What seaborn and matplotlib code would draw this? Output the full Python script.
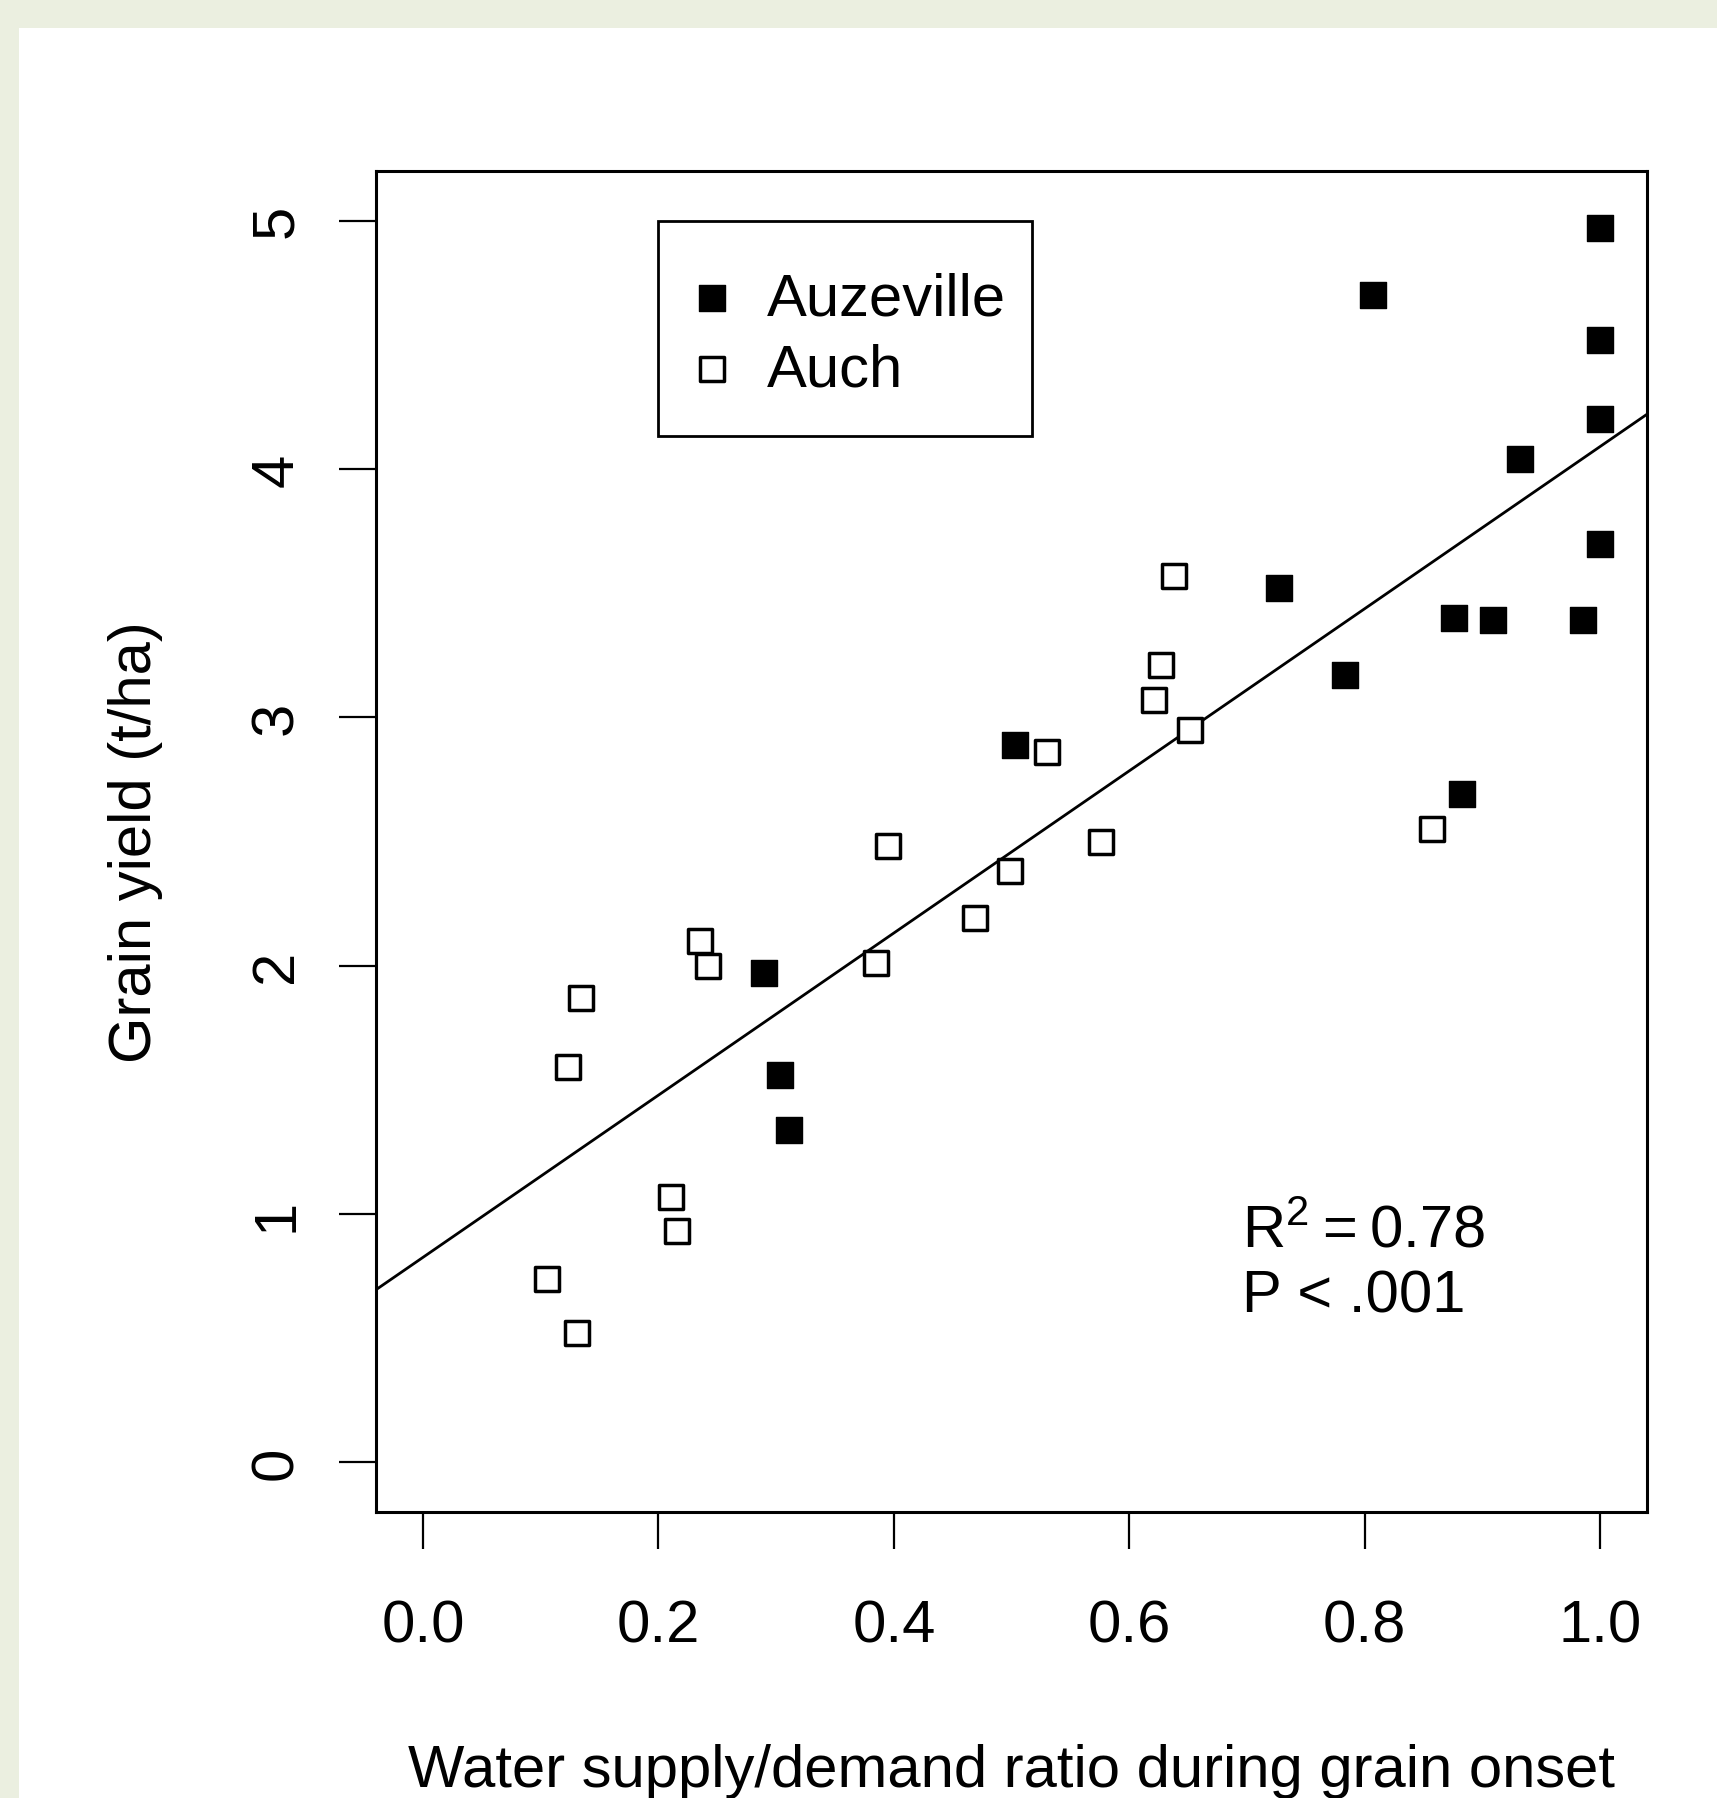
import numpy as np
import pandas as pd
import matplotlib.pyplot as plt
from matplotlib.patches import Rectangle
import seaborn as sns

# values
auzeville_x = [1.0, 0.807, 1.0, 1.0, 0.932, 1.0, 0.727, 0.876, 0.909, 0.986,
               0.783, 0.503, 0.883, 0.290, 0.303, 0.311]
auzeville_y = [4.97, 4.70, 4.52, 4.20, 4.04, 3.70, 3.52, 3.40, 3.39, 3.39,
               3.17, 2.89, 2.69, 1.97, 1.56, 1.34]
auch_x = [0.638, 0.627, 0.621, 0.652, 0.530, 0.576, 0.857, 0.395, 0.499, 0.469,
          0.235, 0.242, 0.385, 0.134, 0.123, 0.211, 0.216, 0.105, 0.131]
auch_y = [3.57, 3.21, 3.07, 2.95, 2.86, 2.50, 2.55, 2.48, 2.38, 2.19,
          2.10, 2.00, 2.01, 1.87, 1.59, 1.07, 0.93, 0.74, 0.52]
sites = ["Auzeville", "Auch"]
x_ticks = [0.0, 0.2, 0.4, 0.6, 0.8, 1.0]
y_ticks = [0, 1, 2, 3, 4, 5]
stats_lines = ["$\\mathregular{R^2}$\u2009=\u20090.78", "P < .001"]

df = pd.DataFrame({
    "ratio": auzeville_x + auch_x,
    "yield": auzeville_y + auch_y,
    "site": [sites[0]] * len(auzeville_x) + [sites[1]] * len(auch_x),
})

sns.set_style("ticks")
plt.rcParams["font.family"] = ["Liberation Sans", "DejaVu Sans"]
plt.rcParams["mathtext.fontset"] = "custom"
plt.rcParams["mathtext.rm"] = "Liberation Sans"
plt.rcParams["mathtext.it"] = "Liberation Sans:italic"
plt.rcParams["text.color"] = "black"
plt.rcParams["axes.labelcolor"] = "black"

W, H = 1717, 1799
fig = plt.figure(figsize=(W / 100, H / 100), dpi=100, facecolor="#ebefe0")
fig.add_artist(Rectangle((19 / W, 0), 1, 1 - 29 / H, transform=fig.transFigure,
                         facecolor="white", edgecolor="none", zorder=-10))

ax_l, ax_r, ax_t, ax_b = 376, 1647, 172, 1513
ax = fig.add_axes([ax_l / W, 1 - ax_b / H, (ax_r - ax_l) / W, (ax_b - ax_t) / H])
ax.set_facecolor("white")
ax.set_xlim(-0.04, 1.04)
ax.set_ylim(-0.2, 5.2)

# least-squares line over the whole axis range
sns.regplot(data=df, x="ratio", y="yield", scatter=False, ci=None, truncate=False,
            color="black", line_kws={"linewidth": 2.0}, ax=ax)

auz = df[df["site"] == sites[0]]
auc = df[df["site"] == sites[1]]
sns.scatterplot(data=auz, x="ratio", y="yield", marker="s", s=340, color="black",
                edgecolor="black", linewidth=1, label=sites[0], ax=ax, zorder=3)
sns.scatterplot(data=auc, x="ratio", y="yield", marker="s", s=285, facecolor="white",
                edgecolor="black", linewidth=2.5, label=sites[1], ax=ax, zorder=3)

ax.set_xlim(-0.04, 1.04)
ax.set_ylim(-0.2, 5.2)
ax.set_xticks(x_ticks)
ax.set_xticklabels([f"{t:.1f}" for t in x_ticks])
ax.set_yticks(y_ticks)
ax.set_yticklabels([str(t) for t in y_ticks])

for sp in ax.spines.values():
    sp.set_visible(True)
    sp.set_linewidth(2.2)
    sp.set_color("black")

ax.tick_params(axis="both", direction="out", length=26.5, width=1.6, colors="black",
               labelsize=43)
ax.tick_params(axis="x", pad=36)
ax.tick_params(axis="y", pad=25)
plt.setp(ax.get_yticklabels(), rotation=90, va="center", ha="right")

ax.set_xlabel("Water supply/demand ratio during grain onset", fontsize=43, va="baseline")
ax.xaxis.set_label_coords(0.5, -0.2043)
ax.set_ylabel("Grain yield (t/ha)", fontsize=43, va="baseline")
ax.yaxis.set_label_coords(-0.177, 0.5)

ax.text(0.696, 0.868, stats_lines[0], fontsize=43, ha="left", va="baseline")
ax.text(0.696, 0.606, stats_lines[1], fontsize=43, ha="left", va="baseline")

# legend entries without their own frame, boxed like the R legend
leg = ax.legend(loc="upper left", bbox_to_anchor=(0.2455, 0.9254), borderaxespad=0,
                frameon=False, fontsize=43, borderpad=0, labelspacing=0.27,
                handlelength=0.8, handletextpad=0.52)
for t in leg.get_texts():
    t.set_color("black")
ax.add_patch(Rectangle((0.2219, 0.8024), 0.2943, 0.1603, transform=ax.transAxes,
                       facecolor="none", edgecolor="black", linewidth=2.0, zorder=4))

fig.savefig("out.png", dpi=100, facecolor=fig.get_facecolor())
